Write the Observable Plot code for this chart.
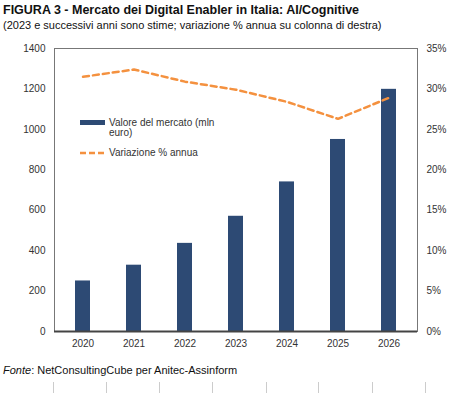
<!DOCTYPE html>
<html><head><meta charset="utf-8">
<script src="https://cdn.jsdelivr.net/npm/d3@7"></script>
<script src="https://cdn.jsdelivr.net/npm/@observablehq/plot@0.6"></script>
<style>
body{margin:0;background:#fff;font-family:"Liberation Sans",Arial,sans-serif;width:474px;height:393px;position:relative;overflow:hidden}
.t{position:absolute;left:3px;top:3px;font-size:12.5px;font-weight:bold;color:#111}
.s{position:absolute;left:3px;top:19px;font-size:11px;color:#111}
.c{position:absolute;left:3px;top:364px;font-size:11px;color:#111}
#chart{position:absolute;left:0;top:0}
.lg{position:absolute;font-size:10px;color:#333;line-height:10px}
.grid{position:absolute;top:382px;width:1px;height:11px;background:#ccc}
</style></head><body>
<div id="chart"></div>
<div class="t">FIGURA 3 - Mercato dei Digital Enabler in Italia: AI/Cognitive</div>
<div class="s">(2023 e successivi anni sono stime; variazione % annua su colonna di destra)</div>
<div class="c"><i>Fonte</i>: NetConsultingCube per Anitec-Assinform</div>
<div class="lg" style="left:80px;top:118px;display:flex"><span style="display:inline-block;width:25px;height:5px;background:#2D4A74;margin-top:2px;margin-right:4px"></span><span>Valore del mercato (mln<br>euro)</span></div>
<div class="lg" style="left:80px;top:148px;display:flex"><svg width="25" height="10" style="margin-right:4px"><line x1="0" x2="25" y1="5" y2="5" stroke="#F4913F" stroke-width="2.5" stroke-dasharray="6,3"/></svg><span>Variazione % annua</span></div>
<script>
const years = ["2020","2021","2022","2023","2024","2025","2026"];
const marketValue = [250, 328, 436, 570, 740, 950, 1198];
const annualChange = [31.5, 32.4, 30.9, 29.9, 28.4, 26.3, 28.9];
const leftTicks = [0,200,400,600,800,1000,1200,1400];
const rightTickLabels = ["0%","5%","10%","15%","20%","25%","30%","35%"];

const ratio = 1400/35;
const data = years.map((y,i)=>({year:y, value:marketValue[i], pct:annualChange[i]*ratio}));

const chart = Plot.plot({
  width: 474, height: 393,
  marginTop: 48, marginBottom: 62, marginLeft: 54, marginRight: 57,
  style: {fontFamily: '"Liberation Sans",Arial,sans-serif', fontSize: "10px", color:"#333", background:"transparent"},
  x: {domain: years, paddingInner: 0.71, paddingOuter: 0.355, label: null},
  y: {domain: [0,1400], label: null},
  marks: [
    Plot.frame({stroke:"#777", strokeWidth:1}),
    Plot.barY(data, {x:"year", y:"value", fill:"#2D4A74"}),
    Plot.line(data, {x:"year", y:"pct", stroke:"#F4913F", strokeWidth:2.5, strokeDasharray:"6,4"}),
    Plot.axisY(leftTicks, {anchor:"left", tickSize:0, tickPadding:9, label:null, fill:"#333", tickFormat:d=>String(d)}),
    Plot.axisY(leftTicks, {anchor:"right", tickSize:0, tickPadding:9, label:null, fill:"#333", textAnchor:"start",
      tickFormat:d=>rightTickLabels[leftTicks.indexOf(d)]}),
    Plot.axisX({tickSize:0, tickPadding:8, label:null, fill:"#333"}),
    Plot.ruleX([0], {frameAnchor:"left", stroke:"#000", strokeWidth:1.5}),
    Plot.ruleY([0], {stroke:"#444", strokeWidth:2})
  ]
});
document.getElementById("chart").appendChild(chart);
[53,106,159,212,266,318,372,425].forEach(x=>{const d=document.createElement("div");d.className="grid";d.style.left=x+"px";document.body.appendChild(d);});
</script>
</body></html>
